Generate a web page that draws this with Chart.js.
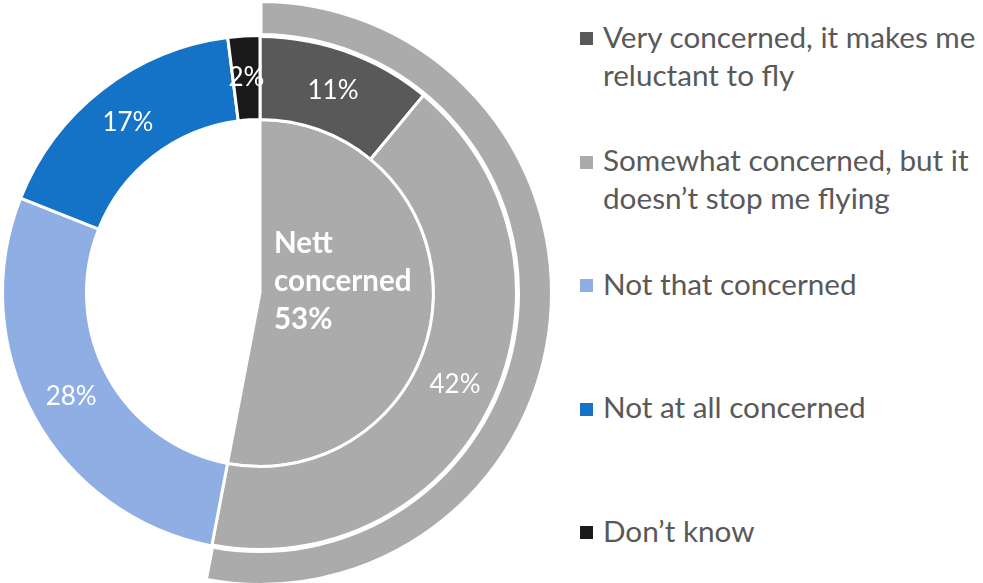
<!doctype html>
<html lang="en">

<head>
    <meta charset="utf-8">
    <title>Concern about flying</title>
    <style>
        body { margin: 0; background: #fff; overflow: hidden; width: 983px; height: 583px; position: relative; font-family: Lato, sans-serif; }
        #wrap { position: absolute; left: -35px; top: -2px; width: 590px; height: 590px; }
        #legend { position: absolute; left: 580px; top: 0; }
        .box { position: absolute; left: 0; width: 13px; height: 13px; }
        .txt { position: absolute; left: 23px; font-size: 29.7px; line-height: 38px; color: #595959; white-space: nowrap; }
    </style>
</head>

<body>
    <div id="wrap"><canvas id="myChart"></canvas></div>
    <div id="legend"></div>

    <script src="https://cdn.jsdelivr.net/npm/chart.js@4.4.0/dist/chart.umd.min.js"></script>
    <script>
        const labels = [
            ['Very concerned, it makes me', 'reluctant to fly'],
            ['Somewhat concerned, but it', 'doesn\u2019t stop me flying'],
            ['Not that concerned'],
            ['Not at all concerned'],
            ['Don\u2019t know']
        ];
        const shares = [11, 42, 28, 17, 2];
        const colors = ['#595959', '#ABABAB', '#8FAFE4', '#1473C6', '#1A1A1A'];
        const nettTitle = ['Nett', 'concerned'];

        // nett concerned = very + somewhat
        const nett = shares[0] + shares[1];
        const blank = 'rgba(0,0,0,0)';

        const sliceLabels = {
            id: 'sliceLabels',
            afterDatasetsDraw(chart) {
                const ctx = chart.ctx;
                ctx.save();
                ctx.fillStyle = '#fff';
                ctx.font = '26px Lato';
                ctx.textAlign = 'center';
                ctx.textBaseline = 'middle';
                chart.getDatasetMeta(1).data.forEach((arc, i) => {
                    const p = arc.tooltipPosition();
                    ctx.fillText(shares[i] + '%', p.x, p.y);
                });

                const pie = chart.getDatasetMeta(2).data[0];
                ctx.font = 'bold 29.5px Lato';
                ctx.textAlign = 'left';
                ctx.textBaseline = 'alphabetic';
                const lines = nettTitle.concat([nett + '%']);
                lines.forEach((line, i) => {
                    ctx.fillText(line, pie.x + 14, pie.y - 40 + i * 38);
                });
                ctx.restore();
            }
        };

        const data = {
            labels: labels,
            datasets: [
                {
                    label: 'Nett concerned (outer)',
                    data: [nett, 100 - nett],
                    backgroundColor: [colors[1], blank],
                    borderColor: '#fff',
                    borderWidth: [5, 0],
                    weight: 35,
                },
                {
                    label: 'Concern',
                    data: shares,
                    backgroundColor: colors,
                    borderColor: '#fff',
                    borderWidth: 3,
                    weight: 84,
                },
                {
                    label: 'Nett concerned',
                    data: [nett, 100 - nett],
                    backgroundColor: [colors[1], blank],
                    borderColor: '#fff',
                    borderWidth: [3, 0],
                    weight: 173.5,
                }
            ]
        };

        const config = {
            type: 'doughnut',
            data: data,
            options: {
                responsive: true,
                maintainAspectRatio: false,
                animation: false,
                events: [],
                radius: 292.5,
                cutout: 0,
                plugins: {
                    legend: { display: false },
                    tooltip: { enabled: false },
                },
            },
            plugins: [sliceLabels],
        };

        new Chart(document.getElementById('myChart'), config);

        // legend on the right
        const legend = document.getElementById('legend');
        labels.forEach((lines, i) => {
            const top = 32 + i * 123.5;
            const box = document.createElement('div');
            box.className = 'box';
            box.style.top = top + 'px';
            box.style.background = colors[i];
            legend.appendChild(box);
            const txt = document.createElement('div');
            txt.className = 'txt';
            txt.style.top = (top - 14.5) + 'px';
            txt.innerHTML = lines.join('<br>');
            legend.appendChild(txt);
        });
    </script>
</body>

</html>
